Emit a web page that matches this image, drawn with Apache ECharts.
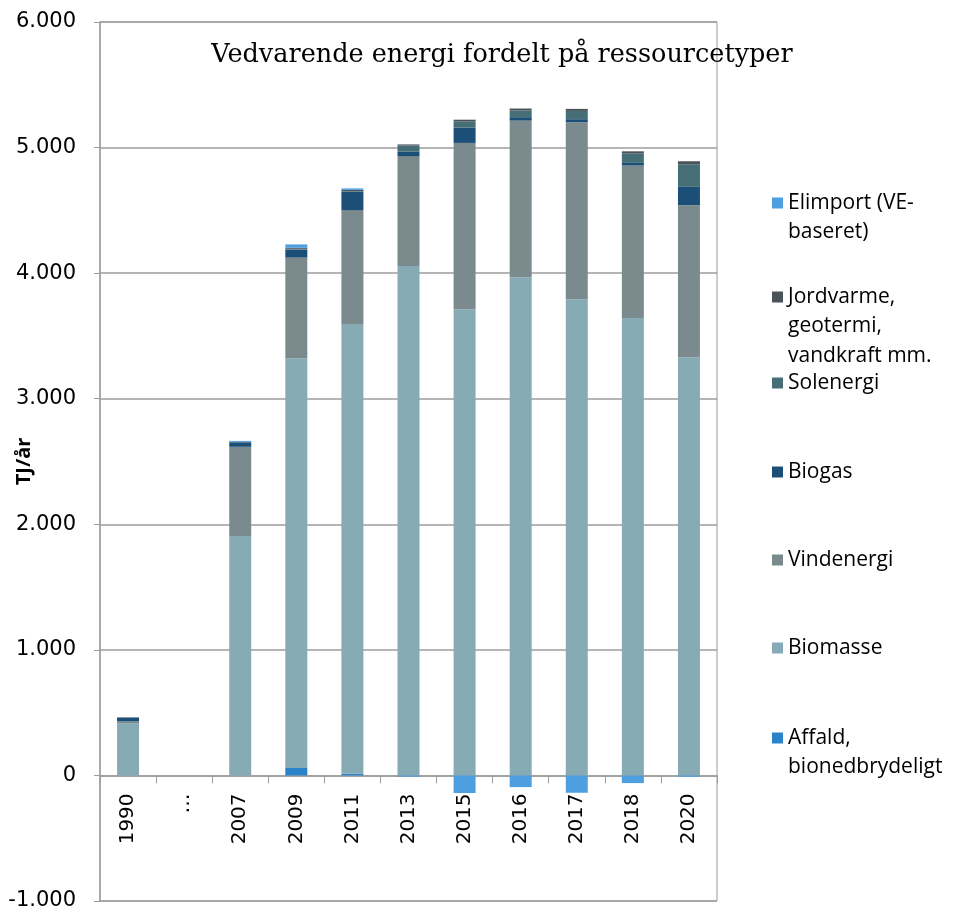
<!DOCTYPE html>
<html><head><meta charset="utf-8">
<script src="https://cdn.jsdelivr.net/npm/echarts@6/dist/echarts.min.js"></script>
<style>html,body{margin:0;padding:0;background:#fff}#c{width:953px;height:912px}</style>
</head><body><div id="c"></div>
<script>
// ---- data ----
const categories = ['1990','…','2007','2009','2011','2013','2015','2016','2017','2018','2020'];
const affald    = [0,   null, 0,    60,   15,   0,    0,    0,    0,    0,    0];
const biomasse  = [415, null, 1906, 3263, 3580, 4056, 3713, 3968, 3793, 3642, 3331];
const vind      = [15,  null, 711,  801,  907,  876,  1324, 1247, 1409, 1215, 1210];
const biogas    = [30,  null, 35,   64,   146,  35,   122,  27,   24,   21,   146];
const sol       = [0,   null, 0,    6,    5,    50,   50,   53,   66,   74,   180];
const jord      = [3,   null, 4,    8,    10,   8,    13,   16,   16,   18,   24];
const elimport  = [0,   null, 8,    27,   12,   -10,  -140, -93,  -138, -61,  -10];
const yTickLabels = {'-1000':'-1.000','0':'0','1000':'1.000','2000':'2.000','3000':'3.000','4000':'4.000','5000':'5.000','6000':'6.000'};
const titleText = 'Vedvarende energi fordelt på ressourcetyper';
const yName = 'TJ/år';
const names = ['Affald,\nbionedbrydeligt','Biomasse','Vindenergi','Biogas','Solenergi','Jordvarme,\ngeotermi,\nvandkraft mm.','Elimport (VE-\nbaseret)'];
const values = [affald, biomasse, vind, biogas, sol, jord, elimport];
const yMin = -1000, yMax = 6000, yStep = 1000;

// ---- style ----
const colors = ['#2a82c8','#86abb5','#7b8b8d','#1b4f78','#466e76','#4a5357','#4d9fe0'];
const legendCenterY = [738, 648, 560, 472, 383, 297, 203];
const grey = '#9c9c9c';
const LH = 29.5;
const gridTop = 22, gridBottom = 11, H = 912;
const plotH = H - gridTop - gridBottom;
const zeroOffset = -plotH * (0 - yMin) / (yMax - yMin);

const series = names.map((n,i)=>({
  name:n, type:'bar', stack:'total', barWidth:22,
  itemStyle:{color:colors[i]}, data:values[i]
}));

const legends = names.map((n,i)=>{
  const lines = n.split('\n').length;
  const total = 2*lines - 1;
  return {
    data:[n], left:772, top: legendCenterY[i] - total*LH/2, orient:'vertical', padding:0,
    itemWidth:11, itemHeight:11, icon:'rect', selectedMode:false, itemGap:0,
    formatter: name => '\n'.repeat(lines-1) + name,
    textStyle:{fontFamily:'Open Sans', fontSize:21, lineHeight:LH, color:'#000'}
  };
});

const chart = echarts.init(document.getElementById('c'), null, {renderer:'canvas'});
chart.setOption({
  animation:false,
  backgroundColor:'#fff',
  title:{text:titleText, left:497, top:37, textAlign:'center',
    textStyle:{fontFamily:'DejaVu Serif', fontSize:25.5, fontWeight:'normal', color:'#000'}},
  legend:legends,
  grid:{left:100, right:236, top:gridTop, bottom:gridBottom, show:true, borderColor:grey, borderWidth:1,
    containLabel:false, outerBoundsMode:'none'},
  xAxis:{type:'category', data:categories, position:'bottom', offset:zeroOffset,
    axisLine:{onZero:false, lineStyle:{color:grey, width:1.5}},
    axisTick:{show:true, length:8, alignWithLabel:false, lineStyle:{color:grey}},
    axisLabel:{rotate:90, margin:18, fontFamily:'DejaVu Sans', fontSize:20, color:'#000', interval:0}},
  yAxis:{type:'value', min:yMin, max:yMax, interval:yStep,
    name:yName, nameLocation:'middle', nameRotate:90, nameGap:66, nameMoveOverlap:false,
    nameTextStyle:{fontFamily:'Open Sans', fontWeight:'bold', fontSize:20, color:'#000'},
    axisLine:{show:true, lineStyle:{color:grey, width:1.5}},
    axisTick:{show:true, length:6, lineStyle:{color:grey}},
    splitLine:{show:true, lineStyle:{color:grey, width:1.5}},
    axisLabel:{margin:24, fontFamily:'DejaVu Sans', fontSize:21, color:'#000',
      formatter:v=>yTickLabels[String(v)] ?? String(v)}},
  series:series
});
</script></body></html>
